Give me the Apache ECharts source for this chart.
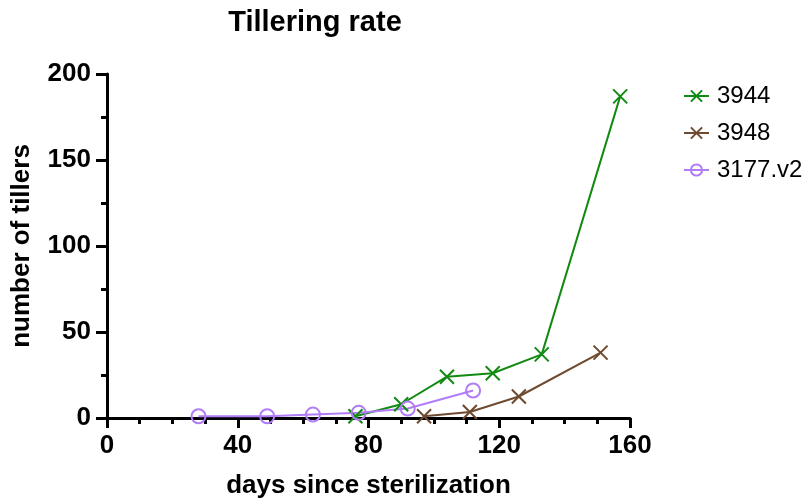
<!DOCTYPE html>
<html><head><meta charset="utf-8">
<script src="https://cdn.jsdelivr.net/npm/echarts@6/dist/echarts.min.js"></script>
<style>html,body{margin:0;padding:0;background:#fff}#c{width:808px;height:504px}</style>
</head><body><div id="c"></div>
<script>
const title = 'Tillering rate';
const xName = 'days since sterilization';
const yName = 'number of tillers';
const names = ['3944', '3948', '3177.v2'];
const days3944 = [76, 90, 104, 118, 133, 157];
const vals3944 = [1, 8, 24, 26, 37, 187];
const days3948 = [97, 111, 126, 151];
const vals3948 = [1, 3.5, 12.5, 38];
const days3177 = [28, 49, 63, 77, 92, 112];
const vals3177 = [1, 1, 2, 3, 5.5, 16];
const colors = ['#128a12', '#6e4a30', '#b07cf7'];

const F = 'Liberation Sans, Arial, sans-serif';
const X = 'path://M0,0L10,10M10,0L0,10';
function pairs(xs, ys){ return xs.map((x,i)=>[x, ys[i]]); }
function xSeries(name, data, color){
  return {name, type:'line', data, color, symbol:X, symbolSize:14,
    lineStyle:{width:2, color},
    itemStyle:{color:'rgba(0,0,0,0)', borderColor:color, borderWidth:2}};
}
const chart = echarts.init(document.getElementById('c'));
chart.setOption({
  animation:false,
  title:{text:title, left:310, top:3, textAlign:'center',
    textStyle:{fontFamily:F, fontWeight:'bold', fontSize:29, color:'#000'}},
  legend:{orient:'vertical', left:678, top:79, itemWidth:25, itemHeight:14, itemGap:13,
    textStyle:{fontFamily:F, fontSize:24, color:'#000', lineHeight:24, padding:[0,0,0,3]},
    data:names},
  grid:{left:107, right:178, top:74, bottom:83},
  xAxis:{type:'value', min:0, max:160, interval:40,
    name:xName, nameLocation:'middle', nameGap:55,
    nameTextStyle:{fontFamily:F, fontWeight:'bold', fontSize:26, color:'#000'},
    axisLine:{lineStyle:{color:'#000', width:3}},
    axisTick:{length:10, lineStyle:{width:3, color:'#000'}},
    minorTick:{show:true, splitNumber:4, length:6, lineStyle:{width:3, color:'#000'}},
    splitLine:{show:false},
    axisLabel:{fontFamily:F, fontWeight:'bold', fontSize:26, color:'#000', margin:15}},
  yAxis:{type:'value', min:0, max:200, interval:50,
    name:yName, nameLocation:'middle', nameGap:72,
    nameTextStyle:{fontFamily:F, fontWeight:'bold', fontSize:26, color:'#000'},
    axisLine:{show:true, lineStyle:{color:'#000', width:3}},
    axisTick:{show:true, length:11, lineStyle:{width:3, color:'#000'}},
    minorTick:{show:true, splitNumber:2, length:6, lineStyle:{width:3, color:'#000'}},
    splitLine:{show:false},
    axisLabel:{fontFamily:F, fontWeight:'bold', fontSize:26, color:'#000', margin:16}},
  series:[
    xSeries(names[0], pairs(days3944, vals3944), colors[0]),
    xSeries(names[1], pairs(days3948, vals3948), colors[1]),
    {name:names[2], type:'line', data:pairs(days3177, vals3177), color:colors[2],
      symbol:'circle', symbolSize:14, lineStyle:{width:2, color:colors[2]},
      itemStyle:{color:'rgba(0,0,0,0)', borderColor:colors[2], borderWidth:2}}
  ]
});
</script></body></html>
